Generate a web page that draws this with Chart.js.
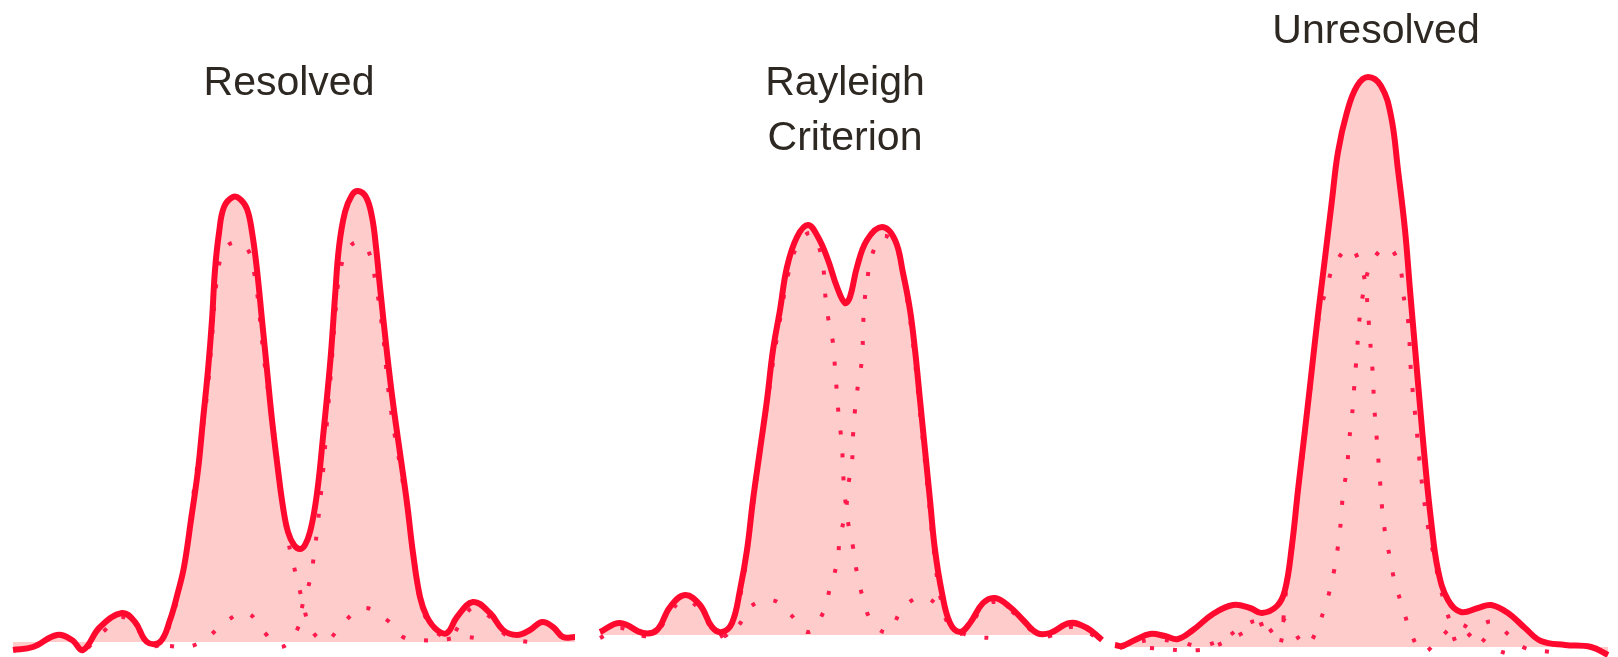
<!DOCTYPE html>
<html>
<head>
<meta charset="utf-8">
<title>Resolution of two point sources</title>
<script src="https://cdn.jsdelivr.net/npm/chart.js@4/dist/chart.umd.min.js"></script>
<style>
  html, body { margin: 0; padding: 0; background: #fff; }
  #wrap { width: 1618px; height: 657px; position: relative; }
</style>
</head>
<body>
<div id="wrap"><canvas id="airyChart"></canvas></div>
<script>
"use strict";

// position along the screen (arb. units) and intensity (arb. units)

// Resolved: summed intensity
var resolvedX = [13, 33, 57, 72, 83, 100, 122, 135, 147, 160, 170, 178, 184, 191, 198, 203, 208, 212, 215, 219, 224, 233, 240, 247, 252, 257, 262, 267, 272, 278, 283, 288, 294, 300, 305, 310, 315, 319, 323, 327, 331, 335, 339, 345, 352, 358, 366, 372, 376, 380, 387, 393, 400, 407, 413, 420, 427, 437, 447, 457, 473, 490, 503, 517, 530, 542, 553, 563, 575];
var resolvedY = [7, 10, 22, 17, 7, 30, 44, 35, 15, 15, 37, 65, 90, 137, 187, 237, 287, 337, 387, 424, 450, 460, 458, 448, 425, 387, 337, 287, 237, 187, 150, 125, 112, 108, 112, 125, 150, 180, 220, 260, 304, 360, 410, 445, 462, 466, 460, 440, 410, 370, 304, 254, 204, 154, 104, 60, 40, 27, 24, 40, 55, 44, 27, 22, 27, 35, 30, 20, 20];
// Resolved: single sources
var resolvedLeftX = [88, 105, 122, 138, 150, 160, 170, 178, 187, 193, 200, 207, 212, 217, 224, 236, 248, 254, 258, 263, 268, 275, 282, 288, 296, 303, 309, 318, 327, 344, 364, 387, 403, 420, 440, 465, 490];
var resolvedLeftY = [9, 27, 40, 27, 12, 13, 33, 62, 110, 160, 210, 262, 320, 378, 407, 415, 407, 385, 357, 307, 267, 217, 160, 117, 82, 54, 32, 19, 16, 35, 49, 37, 20, 17, 17, 20, 16];
var resolvedRightX = [170, 188, 207, 225, 247, 264, 281, 297, 303, 310, 314, 318, 323, 327, 331, 335, 340, 348, 358, 368, 376, 383, 388, 395, 400, 407, 413, 420, 428, 440, 450, 460, 473, 490, 503, 517, 540];
var resolvedRightY = [11, 10, 19, 35, 44, 25, 10, 27, 54, 77, 102, 135, 185, 235, 285, 338, 385, 408, 415, 407, 372, 322, 270, 220, 192, 147, 100, 57, 35, 22, 19, 33, 49, 40, 24, 17, 14];

// Rayleigh criterion: summed intensity
var rayleighX = [600, 620, 643, 657, 670, 685, 700, 712, 722, 732, 740, 747, 753, 760, 767, 773, 780, 787, 797, 808, 818, 828, 837, 845, 850, 857, 867, 882, 895, 903, 910, 915, 920, 925, 930, 935, 942, 950, 960, 970, 983, 995, 1010, 1023, 1037, 1050, 1070, 1087, 1102];
var rayleighY = [25, 34, 24, 27, 50, 62, 52, 30, 25, 34, 67, 107, 157, 207, 257, 307, 347, 390, 420, 432, 420, 397, 370, 354, 360, 390, 417, 430, 417, 384, 347, 307, 257, 207, 157, 107, 64, 34, 25, 34, 54, 59, 50, 37, 24, 24, 34, 29, 17];
// Rayleigh criterion: single sources
var rayleighLeftX = [600, 620, 643, 657, 670, 685, 700, 712, 725, 735, 741, 747, 753, 760, 767, 774, 781, 788, 798, 810, 818, 823, 825, 828, 833, 835, 837, 839, 842, 843, 845, 848, 853, 857, 863, 872, 888, 903, 923, 942, 955, 970, 990];
var rayleighLeftY = [19, 29, 21, 25, 45, 57, 47, 29, 21, 41, 65, 102, 152, 202, 252, 301, 343, 382, 413, 424, 412, 392, 365, 340, 314, 289, 263, 238, 212, 186, 160, 135, 110, 84, 59, 35, 25, 49, 60, 47, 29, 21, 19];
var rayleighRightX = [720, 738, 750, 772, 790, 808, 823, 830, 837, 840, 846, 848, 852, 853, 855, 858, 862, 863, 864, 867, 872, 883, 895, 903, 909, 914, 919, 924, 929, 934, 940, 948, 960, 970, 983, 995, 1010, 1023, 1037, 1050, 1070, 1087, 1100];
var rayleighRightY = [20, 31, 50, 57, 43, 25, 44, 69, 94, 119, 147, 170, 195, 221, 247, 272, 298, 324, 349, 375, 402, 421, 412, 381, 345, 305, 255, 205, 155, 105, 62, 33, 23, 31, 50, 55, 47, 35, 22, 21, 30, 25, 17];

// Unresolved: summed intensity
var unresolvedX = [1115, 1122, 1135, 1150, 1165, 1178, 1193, 1213, 1233, 1250, 1262, 1277, 1285, 1292, 1298, 1305, 1312, 1318, 1325, 1332, 1338, 1347, 1357, 1368, 1381, 1391, 1398, 1405, 1410, 1415, 1420, 1425, 1431, 1438, 1448, 1461, 1478, 1491, 1508, 1525, 1541, 1565, 1591, 1608];
var unresolvedY = [12, 11, 17, 23, 21, 18, 27, 43, 52, 49, 44, 51, 67, 112, 167, 227, 289, 342, 399, 457, 505, 545, 571, 580, 571, 541, 487, 427, 367, 309, 251, 195, 137, 87, 57, 45, 49, 52, 44, 29, 16, 12, 10, 2];
// Unresolved: single sources
var unresolvedLeftX = [1120, 1150, 1180, 1200, 1225, 1243, 1260, 1272, 1280, 1285, 1292, 1298, 1305, 1312, 1318, 1326, 1335, 1350, 1362, 1366, 1369, 1371, 1373, 1374, 1376, 1378, 1380, 1382, 1385, 1390, 1395, 1403, 1411, 1423, 1440, 1458, 1478, 1497, 1520];
var unresolvedLeftY = [9, 17, 15, 11, 19, 31, 36, 25, 12, 57, 107, 162, 222, 283, 335, 367, 393, 409, 387, 367, 332, 305, 280, 254, 228, 202, 176, 150, 125, 99, 74, 49, 24, 5, 19, 33, 21, 7, 1];
var unresolvedRightX = [1150, 1200, 1225, 1243, 1262, 1283, 1293, 1300, 1308, 1320, 1328, 1334, 1338, 1341, 1343, 1347, 1349, 1352, 1354, 1356, 1358, 1362, 1372, 1388, 1400, 1403, 1408, 1411, 1416, 1421, 1428, 1433, 1438, 1443, 1450, 1458, 1468, 1480, 1493, 1510, 1525, 1550];
var unresolvedRightY = [9, 7, 15, 24, 33, 37, 27, 17, 12, 36, 60, 86, 111, 137, 163, 189, 215, 241, 267, 293, 319, 357, 395, 410, 389, 364, 337, 285, 234, 182, 130, 105, 80, 59, 35, 12, 21, 31, 35, 21, 9, 5];

var panelTitles = [["Resolved"], ["Rayleigh", "Criterion"], ["Unresolved"]];

function points(xs, ys) {
  return xs.map(function (x, i) { return { x: x, y: ys[i] }; });
}

var sumColor = '#ff0a2e';
var sumFill = '#ffcccc';
var singleColor = '#ff1a4c';

function sumSet(label, xs, ys, floor) {
  return {
    label: label,
    data: points(xs, ys),
    borderColor: sumColor,
    borderWidth: 6,
    backgroundColor: sumFill,
    fill: { value: floor },
    tension: 0.4
  };
}

function singleSet(label, xs, ys) {
  return {
    label: label,
    data: points(xs, ys),
    borderColor: singleColor,
    borderWidth: 4,
    borderDash: [4, 19],
    fill: false,
    tension: 0.4
  };
}

// titles drawn at data positions
var titlePlugin = {
  id: 'panelTitles',
  afterDraw: function (chart, args, opts) {
    var ctx = chart.ctx;
    var xs = chart.scales.x, ys = chart.scales.y;
    ctx.save();
    ctx.font = opts.font;
    ctx.fillStyle = opts.color;
    ctx.textAlign = 'center';
    ctx.textBaseline = 'alphabetic';
    panelTitles.forEach(function (lines, i) {
      var px = xs.getPixelForValue(opts.at[i][0]);
      var py = ys.getPixelForValue(opts.at[i][1]);
      lines.forEach(function (line, j) {
        ctx.fillText(line, px, py + j * opts.lineHeight);
      });
    });
    ctx.restore();
  }
};

var ctx = document.getElementById('airyChart').getContext('2d');
var airyChart = new Chart(ctx, {
  type: 'line',
  data: {
    datasets: [
      sumSet('Resolved', resolvedX, resolvedY, 15),
      sumSet('Rayleigh Criterion', rayleighX, rayleighY, 22),
      sumSet('Unresolved', unresolvedX, unresolvedY, 10),
      singleSet('Resolved, source 1', resolvedLeftX, resolvedLeftY),
      singleSet('Resolved, source 2', resolvedRightX, resolvedRightY),
      singleSet('Rayleigh, source 1', rayleighLeftX, rayleighLeftY),
      singleSet('Rayleigh, source 2', rayleighRightX, rayleighRightY),
      singleSet('Unresolved, source 1', unresolvedLeftX, unresolvedLeftY),
      singleSet('Unresolved, source 2', unresolvedRightX, unresolvedRightY)
    ]
  },
  options: {
    responsive: true,
    maintainAspectRatio: false,
    animation: false,
    layout: { padding: 0 },
    elements: { point: { radius: 0, hoverRadius: 0 } },
    scales: {
      x: { type: 'linear', min: 0, max: 1618, display: false },
      y: { type: 'linear', min: 0, max: 657, display: false }
    },
    plugins: {
      legend: { display: false },
      tooltip: { enabled: false },
      filler: { drawTime: 'beforeDatasetsDraw' },
      panelTitles: {
        font: '41px "Liberation Sans", Arial, sans-serif',
        color: '#2e2823',
        lineHeight: 55,
        at: [[289, 562], [845, 562], [1376, 614]]
      }
    }
  },
  plugins: [titlePlugin]
});
</script>
</body>
</html>
